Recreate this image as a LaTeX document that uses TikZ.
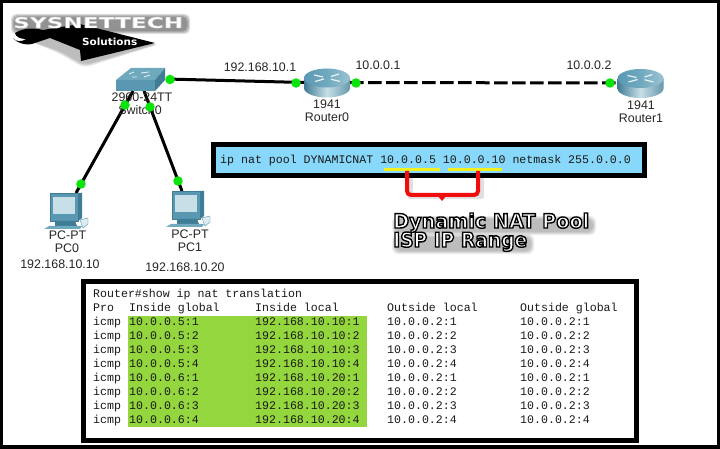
\documentclass[tikz,border=0pt]{standalone}
\usepackage{fontspec}
\setmainfont{Liberation Sans}
\setmonofont{Liberation Mono}
\newfontfamily\fancyfont{DejaVu Sans}
\usetikzlibrary{calc}
\definecolor{linkgreen}{HTML}{0BE40B}
\definecolor{poolblue}{HTML}{87D8FA}
\definecolor{natgreen}{HTML}{94D63E}
\definecolor{marker}{HTML}{F2F01E}
\definecolor{bracketred}{HTML}{F20D0D}
\definecolor{teal1}{HTML}{6FA9BE}
\definecolor{teal2}{HTML}{5A98B2}
\definecolor{teal3}{HTML}{3F7C96}
\definecolor{teal4}{HTML}{C7DFE7}
\newcommand{\strokedtext}[3]{\special{pdf:code q 2 Tr #1 w #2 RG 1 1 1 rg}#3\special{pdf:code Q}}
\tikzset{
  link/.style={draw=black,line width=3pt},
  dashlink/.style={draw=black,line width=3pt,dash pattern=on 13.5pt off 4.5pt},
  port/.style={circle,fill=linkgreen,draw=none,minimum size=9.5pt,inner sep=0pt},
  lbl/.style={font=\fontsize{12.4}{14}\selectfont,inner sep=0pt,text=black!85},
  tbl/.style={font=\ttfamily\fontsize{11.6}{13}\selectfont,anchor=base west,inner sep=0pt,text=black!90},
  device/.style={draw=none,inner sep=0pt,minimum width=#1},
  frame/.style={draw=black,line width=5pt},
  softshadow/.style={fill=black,opacity=0.07,draw=none},
  logoshadow/.style={fill=black,opacity=0.13,draw=none},
  fancy/.style={anchor=base west,inner sep=0pt,font=\fancyfont\bfseries},
  routericon/.pic={
    \path[left color=teal3,right color=teal3!80,middle color=teal4]
      (-23,-5) -- (-23,5) arc[start angle=180,end angle=0,x radius=23,y radius=9.5] -- (23,-5) -- cycle;
    \path[left color=teal2,right color=teal1!70,middle color=teal1] (0,-5) ellipse[x radius=23,y radius=9.5];
    \draw[white!85!teal1,line width=1.2pt] (-13,-8) -- (-4,-6) (13,-1.5) -- (4,-3.8) (-12,-1.5) -- (-3,-4) (12,-9) -- (4,-6.5);
  },
  switchicon/.pic={
    \path[fill=teal1] (-25,0) -- (-10,-12) -- (24,-12) -- (14,0) -- cycle;
    \path[fill=teal2] (-25,0) -- (14,0) -- (14,11) -- (-25,11) -- cycle;
    \path[fill=teal3] (14,0) -- (24,-12) -- (24,0) -- (14,11) -- cycle;
    \draw[white!80!teal1,line width=.9pt] (-12,-6) -- (-7,-8) (0,-7) -- (8,-8) (-9,-3) -- (-4,-3) (3,-3) -- (9,-5);
  },
  pcicon/.pic={
    \path[fill=teal3] (78,193) -- (82,193) -- (82,218) -- (78,221) -- cycle;
    \path[fill=teal2,draw=teal3,line width=.5pt] (50,193) -- (78,193) -- (78,221) -- (50,221) -- cycle;
    \path[fill=teal4] (52.5,197) -- (75,197) -- (75,214) -- (52.5,214) -- cycle;
    \path[fill=teal3] (55,221) -- (75,221) -- (77,226) -- (55,226) -- cycle;
    \path[fill=teal1] (49,226) -- (82,226) -- (80,229) -- (44,229) -- cycle;
    \path[fill=teal4!60!white,draw=teal2,line width=.4pt] (80,220) -- (88,218) -- (88,224) -- (83,228) -- cycle;
  },
}
\begin{document}
\begin{tikzpicture}[x=1pt,y=-1pt]
\useasboundingbox (0,0) rectangle (720,449);
\fill[white] (0,0) rectangle (720,449);

% logo
\foreach \g in {0,1,2,3}{
  \fill[logoshadow,rounded corners=5pt] ({11+\g},{14+\g}) rectangle ({190-\g},{34-\g});
  \fill[softshadow,rounded corners=6pt] ({14+\g},{34+\g}) -- ({160-\g},{44}) -- ({84},{68-\g}) -- ({60},{54-\g}) -- cycle;
}
\fill[black] (15,33) .. controls (22,29) and (30,27) .. (43,30) -- (80,24) -- (155,43) -- (81,61) -- (80,50)
  -- (50,38) -- (35,43) .. controls (28,46) and (18,44) .. (13,38) .. controls (16,42) and (22,42) .. (26,39)
  .. controls (20,39) and (16,37) .. (15,33) -- cycle;
\node[fancy,text=white] (brand) at (13,28) {\resizebox{170pt}{11pt}{\strokedtext{0.25}{0.75 0.75 0.75}{SYSNETTECH}}};
\node[fancy,text=white] (solutions) at (82,46) {\resizebox{55pt}{7.5pt}{Solutions}};

% topology connectors
\node[device=50pt,minimum height=24pt] (sw) at (141,79) {};
\node[device=46pt,minimum height=29pt] (r0) at (327,82.5) {};
\node[device=46pt,minimum height=29pt] (r1) at (640.5,83) {};
\node[device=38pt,minimum height=36pt] (pc0) at (66,211) {};
\node[device=38pt,minimum height=36pt] (pc1) at (188,209) {};
\coordinate (swa) at (133,91);
\coordinate (swb) at (144,91);
\coordinate (pca) at (76,193);
\coordinate (pcb) at (182,191);
\draw[link] (sw.east) -- (r0.west);
\draw[dashlink] (r0.east) -- (r1.west);
\draw[link] (swa) -- (pca);
\draw[link] (swb) -- (pcb);

% device icons
\pic at (141,80) {switchicon};
\pic at (327,83) {routericon};
\pic at (640.5,83.5) {routericon};
\pic at (0,0) {pcicon};
\pic at (122,-2) {pcicon};

% device labels
\node[lbl] (swl1) at (142,97) {2960-24TT};
\node[lbl] (swl2) at (140,110) {Switch0};
\node[lbl] (ip1) at (260,67) {192.168.10.1};
\node[lbl] (ip2) at (378,65) {10.0.0.1};
\node[lbl] (ip3) at (589,65) {10.0.0.2};
\node[lbl] (r0l1) at (327,104) {1941};
\node[lbl] (r0l2) at (327,117) {Router0};
\node[lbl] (r1l1) at (641,105) {1941};
\node[lbl] (r1l2) at (641,118) {Router1};
\node[lbl] (pc0l1) at (67.5,235) {PC-PT};
\node[lbl] (pc0l2) at (67,248) {PC0};
\node[lbl] (pc0l3) at (60,264) {192.168.10.10};
\node[lbl] (pc1l1) at (190,234) {PC-PT};
\node[lbl] (pc1l2) at (190,247) {PC1};
\node[lbl] (pc1l3) at (185,267) {192.168.10.20};

% ports
\node[port] at (170,79.5) {};
\node[port] at (125,105) {};
\node[port] at (150,107) {};
\node[port] at (296,83) {};
\node[port] at (356,83) {};
\node[port] at (610,83) {};
\node[port] at (81,184) {};
\node[port] at (178,181) {};

% pool box
\draw[frame,fill=poolblue] (213.5,144.5) rectangle (644.5,175.5);
\node[tbl] (pool) at (220,163.5) {ip nat pool DYNAMICNAT 10.0.0.5 10.0.0.10 netmask 255.0.0.0};
\draw[marker,line width=2.5pt] (384,169.5) -- (440,169.5);
\draw[marker,line width=2.5pt] (448,169.5) -- (502,169.5);

% bracket
\draw[black,opacity=.12,line width=5pt,line join=round] (410,173) -- (410,197) -- (481,197) -- (481,173);
\draw[bracketred,line width=4pt,rounded corners=4pt] (407,171) -- (407,195) -- (478,195) -- (478,171);
\fill[bracketred] (437,195) -- (447,195) -- (442,201) -- cycle;

% caption
\foreach \g in {0,1,2,3}{
  \fill[softshadow,rounded corners=6pt] ({392+\g},{216+\g}) rectangle ({596-\g},{235-\g});
  \fill[softshadow,rounded corners=6pt] ({392+\g},{234+\g}) rectangle ({534-\g},{254-\g});
}
\node[fancy,text=white] (cap1) at (393,228) {\resizebox{196pt}{15pt}{\strokedtext{0.7}{0 0 0}{Dynamic NAT Pool}}};
\node[fancy,text=white] (cap2) at (393,247) {\resizebox{134pt}{15pt}{\strokedtext{0.7}{0 0 0}{ISP IP Range}}};

% NAT table
\draw[frame,fill=white] (83.5,281.5) rectangle (636.5,440.5);
\fill[natgreen] (128,316) rectangle (367,427);
\node[tbl] (cmd) at (93,297.5) {Router\#show ip nat translation};
\node[tbl] (h1) at (93,311.5) {Pro};
\node[tbl] (h2) at (129,311.5) {Inside global};
\node[tbl] (h3) at (255,311.5) {Inside local};
\node[tbl] (h4) at (387,311.5) {Outside local};
\node[tbl] (h5) at (520,311.5) {Outside global};
\foreach \i/\g/\l/\o in {0/10.0.0.5:1/192.168.10.10:1/10.0.0.2:1,1/10.0.0.5:2/192.168.10.10:2/10.0.0.2:2,2/10.0.0.5:3/192.168.10.10:3/10.0.0.2:3,3/10.0.0.5:4/192.168.10.10:4/10.0.0.2:4,4/10.0.0.6:1/192.168.10.20:1/10.0.0.2:1,5/10.0.0.6:2/192.168.10.20:2/10.0.0.2:2,6/10.0.0.6:3/192.168.10.20:3/10.0.0.2:3,7/10.0.0.6:4/192.168.10.20:4/10.0.0.2:4}{
  \node[tbl] at (93,{325.5+14*\i}) {icmp};
  \node[tbl] at (129,{325.5+14*\i}) {\g};
  \node[tbl] at (255,{325.5+14*\i}) {\l};
  \node[tbl] at (387,{325.5+14*\i}) {\o};
  \node[tbl] at (520,{325.5+14*\i}) {\o};
}

% outer border
\draw[black,line width=3.5pt] (1.5,1.5) rectangle (718.5,447);
\end{tikzpicture}
\end{document}
